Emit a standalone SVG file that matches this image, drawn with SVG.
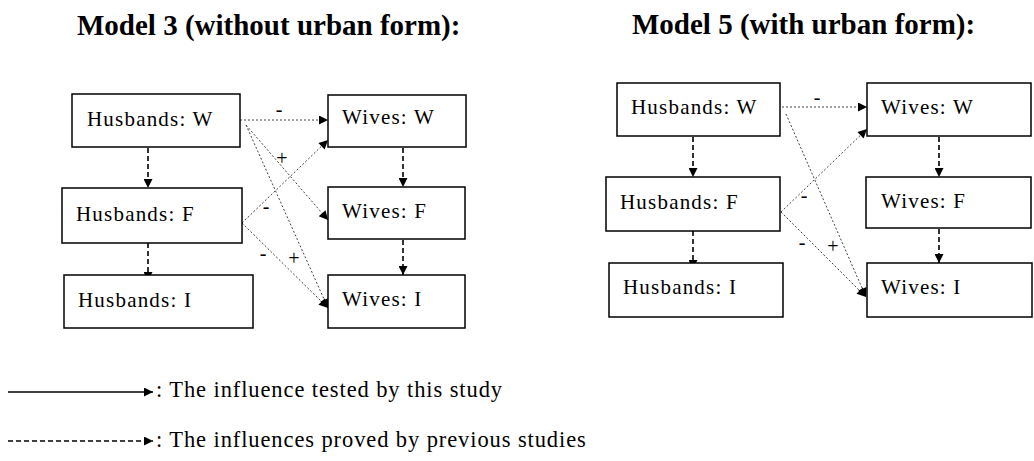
<svg xmlns="http://www.w3.org/2000/svg" width="1034" height="461" viewBox="0 0 1034 461">
  <style>
    .title { font-family: "Liberation Serif", serif; font-weight: bold; font-size: 29px; fill: #000; }
    .box rect { fill: #fff; stroke: #000; stroke-width: 1.5; }
    .box text { font-family: "Liberation Serif", serif; font-size: 21px; letter-spacing: 1.2px; fill: #000; }
    .dotted { stroke: #444; stroke-width: 1; stroke-dasharray: 2 2; fill: none; }
    .dashed { stroke: #000; stroke-width: 1.6; stroke-dasharray: 5 3; fill: none; }
    .solid { stroke: #000; stroke-width: 1.3; fill: none; }
    .sign { font-family: "Liberation Serif", serif; font-size: 20px; fill: #000; text-anchor: middle; }
    .legend { font-family: "Liberation Serif", serif; font-size: 22.5px; letter-spacing: 0.9px; fill: #000; }
  </style>
  <defs>
    <marker id="arrow" viewBox="0 0 10 10" refX="10" refY="5" markerWidth="11" markerHeight="9" markerUnits="userSpaceOnUse" orient="auto">
      <path d="M0,0 L10,5 L0,10 Z" fill="#000"/>
    </marker>
  </defs>

  <rect width="1034" height="461" fill="#fff"/>

  <text class="title" x="77" y="35">Model 3 (without urban form):</text>
  <text class="title" x="632" y="34">Model 5 (with urban form):</text>

  <!-- connectors -->
  <g id="connectors">
    <!-- Model 3 -->
    <line class="dashed" x1="148" y1="148" x2="148" y2="188" marker-end="url(#arrow)"/>
    <line class="dashed" x1="148" y1="243" x2="148" y2="281" marker-end="url(#arrow)"/>
    <line class="dashed" x1="403" y1="148" x2="403" y2="187" marker-end="url(#arrow)"/>
    <line class="dashed" x1="403" y1="240" x2="403" y2="275" marker-end="url(#arrow)"/>
    <line class="dotted" x1="240" y1="120" x2="328" y2="120" marker-end="url(#arrow)"/>
    <line class="dotted" x1="246" y1="125" x2="328" y2="220" marker-end="url(#arrow)"/>
    <line class="dotted" x1="246" y1="125" x2="328" y2="308" marker-end="url(#arrow)"/>
    <line class="dotted" x1="242" y1="223" x2="328" y2="140" marker-end="url(#arrow)"/>
    <line class="dotted" x1="242" y1="223" x2="328" y2="308" marker-end="url(#arrow)"/>
    <text class="sign" x="279" y="116">-</text>
    <text class="sign" x="282" y="165">+</text>
    <text class="sign" x="266" y="213">-</text>
    <text class="sign" x="263" y="260">-</text>
    <text class="sign" x="294" y="265">+</text>

    <!-- Model 5 -->
    <line class="dashed" x1="693" y1="137" x2="693" y2="177" marker-end="url(#arrow)"/>
    <line class="dashed" x1="693" y1="231" x2="693" y2="269" marker-end="url(#arrow)"/>
    <line class="dashed" x1="939" y1="137" x2="939" y2="177" marker-end="url(#arrow)"/>
    <line class="dashed" x1="939" y1="229" x2="939" y2="263" marker-end="url(#arrow)"/>
    <line class="dotted" x1="782" y1="107" x2="867" y2="107" marker-end="url(#arrow)"/>
    <line class="dotted" x1="786" y1="114" x2="866" y2="297" marker-end="url(#arrow)"/>
    <line class="dotted" x1="781" y1="212" x2="867" y2="129" marker-end="url(#arrow)"/>
    <line class="dotted" x1="781" y1="212" x2="866" y2="297" marker-end="url(#arrow)"/>
    <text class="sign" x="817" y="104">-</text>
    <text class="sign" x="804" y="202">-</text>
    <text class="sign" x="802" y="249">-</text>
    <text class="sign" x="833" y="253">+</text>

    <!-- legend -->
    <line class="solid" x1="8" y1="392" x2="153" y2="392" marker-end="url(#arrow)"/>
    <line class="solid" x1="8" y1="441" x2="153" y2="441" stroke-dasharray="5 3" stroke-width="1.1" marker-end="url(#arrow)"/>
  </g>

  <!-- Model 3 nodes -->
  <g id="m3-husbands-w" class="box"><rect x="72" y="94" width="168" height="53"/><text x="87" y="126">Husbands: W</text></g>
  <g id="m3-husbands-f" class="box"><rect x="62" y="188" width="180" height="55"/><text x="76" y="221">Husbands: F</text></g>
  <g id="m3-husbands-i" class="box"><rect x="64" y="275" width="189" height="53"/><text x="78" y="307">Husbands: I</text></g>
  <g id="m3-wives-w" class="box"><rect x="328" y="95" width="138" height="52"/><text x="342" y="124">Wives: W</text></g>
  <g id="m3-wives-f" class="box"><rect x="328" y="187" width="137" height="52"/><text x="342" y="218">Wives: F</text></g>
  <g id="m3-wives-i" class="box"><rect x="328" y="275" width="137" height="53"/><text x="342" y="306">Wives: I</text></g>

  <!-- Model 5 nodes -->
  <g id="m5-husbands-w" class="box"><rect x="617" y="83" width="163" height="53"/><text x="631" y="114">Husbands: W</text></g>
  <g id="m5-husbands-f" class="box"><rect x="606" y="177" width="174" height="54"/><text x="620" y="209">Husbands: F</text></g>
  <g id="m5-husbands-i" class="box"><rect x="609" y="263" width="174" height="54"/><text x="623" y="294">Husbands: I</text></g>
  <g id="m5-wives-w" class="box"><rect x="867" y="83" width="164" height="53"/><text x="881" y="114">Wives: W</text></g>
  <g id="m5-wives-f" class="box"><rect x="866" y="177" width="165" height="51"/><text x="881" y="208">Wives: F</text></g>
  <g id="m5-wives-i" class="box"><rect x="867" y="263" width="165" height="54"/><text x="881" y="294">Wives: I</text></g>

  <text class="legend" x="156" y="397">: The influence tested by this study</text>
  <text class="legend" x="156" y="447">: The influences proved by previous studies</text>
</svg>
